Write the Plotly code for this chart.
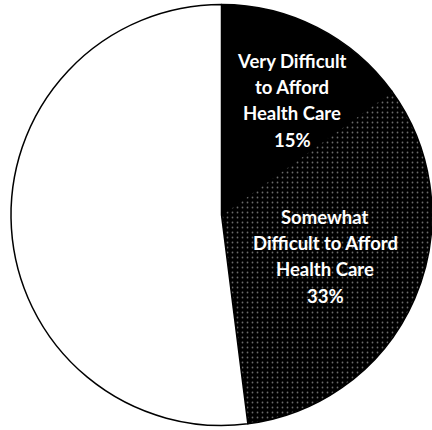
import plotly.graph_objects as go

# Share of adults by how hard it is to afford health care
categories = ["Very Difficult to Afford Health Care",
              "Somewhat Difficult to Afford Health Care",
              "Not Difficult"]
values = [15, 33, 52]
label_lines = [["Very Difficult", "to Afford", "Health Care"],
               ["Somewhat", "Difficult to Afford", "Health Care"]]

W, H = 432, 430

fig = go.Figure(go.Pie(
    labels=categories,
    values=values,
    sort=False,
    direction="clockwise",
    rotation=0,
    textinfo="none",
    hoverinfo="label+percent",
    showlegend=False,
    domain=dict(x=[11 / W, 1.0], y=[0, 1]),
    marker=dict(
        colors=["#000000", "#000000", "#ffffff"],
        line=dict(color="#000000", width=1.5),
        pattern=dict(shape=["", ".", ""], fgcolor="#6a6a6a",
                     bgcolor=["#000000", "#000000", "#ffffff"],
                     fillmode="replace", size=5, solidity=0.1),
    ),
))

# label block centres (pixels) and line spacing
label_centers = [(292, 61), (325, 217)]
line_gap = 26.2

annotations = []
for lines, val, (cx, cy) in zip(label_lines, values, label_centers):
    for i, txt in enumerate(lines + [f"{val}%"]):
        annotations.append(dict(
            x=cx / W, y=1 - (cy + i * line_gap) / H,
            xref="paper", yref="paper",
            text=f"<b>{txt}</b>", showarrow=False,
            xanchor="center", yanchor="middle",
            font=dict(family="Lato, Open Sans, sans-serif", size=18.5, color="#ffffff"),
        ))

fig.update_layout(
    width=W, height=H,
    margin=dict(l=0, r=0, t=0, b=0),
    paper_bgcolor="#ffffff",
    plot_bgcolor="#ffffff",
    annotations=annotations,
)

fig.write_html("out.html")
